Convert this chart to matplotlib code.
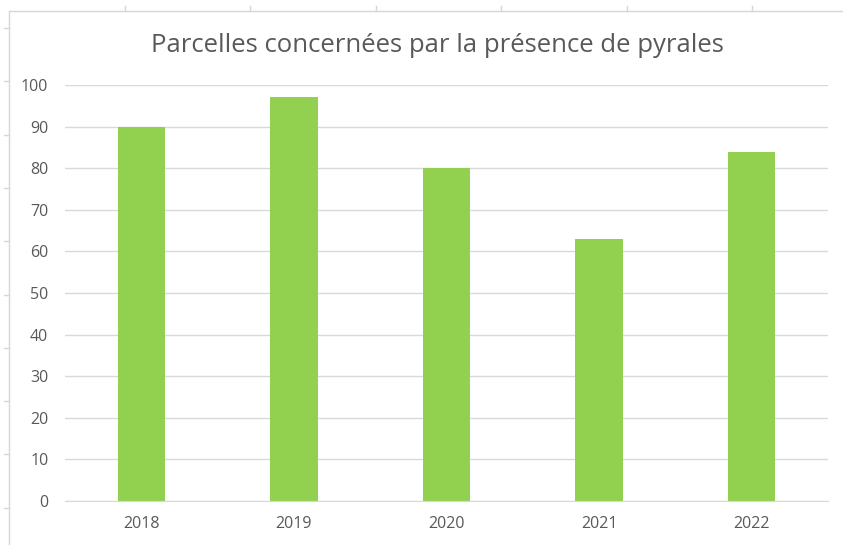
import numpy as np
import matplotlib.pyplot as plt
from matplotlib.lines import Line2D

# data
years = ['2018', '2019', '2020', '2021', '2022']
parcelles = [90, 97, 80, 63, 84]
y_ticks = list(range(0, 101, 10))

TITLE = 'Parcelles concernées par la présence de pyrales'
BAR_COLOR = '#92D050'
GRID_COLOR = '#D9D9D9'
TEXT_COLOR = '#595959'

plt.rcParams['font.family'] = ['Open Sans', 'DejaVu Sans']

W, H = 843, 545
fig = plt.figure(figsize=(W / 100, H / 100), dpi=100)
ax = fig.add_axes([65 / W, 1 - 501 / H, (828 - 65) / W, (501 - 85) / H])

x = np.arange(len(years))
ax.bar(x, parcelles, width=0.31, color=BAR_COLOR, zorder=2)

ax.set_xlim(-0.5, len(years) - 0.5)
ax.set_ylim(0, 100)
ax.set_yticks(y_ticks)
ax.set_xticks(x)
ax.set_xticklabels(years)
ax.yaxis.grid(True, color=GRID_COLOR, linewidth=1, zorder=0)
ax.tick_params(axis='both', length=0, labelsize=11.5, labelcolor=TEXT_COLOR)
ax.tick_params(axis='y', pad=12)
ax.tick_params(axis='x', pad=11)
for side in ['top', 'right', 'left']:
    ax.spines[side].set_visible(False)
ax.spines['bottom'].set_color(GRID_COLOR)

fig.text(437 / W, 1 - 45 / H, TITLE, ha='center', va='center',
         fontsize=18.5, color=TEXT_COLOR)

# chart frame (top and left edges) with the worksheet cell marks
frame = '#D6D6D6'
fig.add_artist(Line2D([9 / W, 1], [1 - 11 / H] * 2, color=frame, lw=1))
fig.add_artist(Line2D([9 / W] * 2, [0, 1 - 11 / H], color=frame, lw=1))
for px in np.arange(125, W, 125.4):
    fig.add_artist(Line2D([px / W] * 2, [1 - 11 / H, 1 - 6 / H], color=frame, lw=1))
for py in np.arange(28, H, 53.3):
    fig.add_artist(Line2D([4 / W, 9 / W], [1 - py / H] * 2, color=frame, lw=1))

fig.savefig('out.png', dpi=100)
